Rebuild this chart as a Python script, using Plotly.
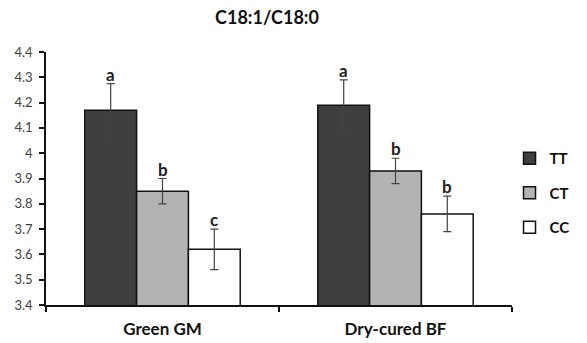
import plotly.graph_objects as go

categories = ["Green GM", "Dry-cured BF"]
genotypes = ["TT", "CT", "CC"]
ratio_tt = [4.17, 4.19]
ratio_ct = [3.85, 3.93]
ratio_cc = [3.62, 3.76]
err_tt = [0.105, 0.10]
err_ct = [0.05, 0.05]
err_cc = [0.08, 0.07]
letters_tt = ["a", "a"]
letters_ct = ["b", "b"]
letters_cc = ["c", "b"]
y_ticks = [3.4, 3.5, 3.6, 3.7, 3.8, 3.9, 4.0, 4.1, 4.2, 4.3, 4.4]
y_tick_text = ["3.4", "3.5", "3.6", "3.7", "3.8", "3.9", "4", "4.1", "4.2", "4.3", "4.4"]

values = [ratio_tt, ratio_ct, ratio_cc]
errors = [err_tt, err_ct, err_cc]
letters = [letters_tt, letters_ct, letters_cc]
fills = ["#3f3f3f", "#b3b3b3", "#ffffff"]

FONT = "Lato, 'Open Sans', sans-serif"
L, R, T, B = 46, 64, 52, 38
W, H = 587, 343
plot_w = W - L - R

fig = go.Figure()
for i, name in enumerate(genotypes):
    fig.add_trace(go.Bar(
        name=f"<b>{name}</b>",
        x=categories,
        y=values[i],
        base=0,
        marker=dict(color=fills[i], line=dict(color="#111111", width=1.5)),
        error_y=dict(type="data", array=errors[i], visible=True,
                     color="#444444", thickness=1.2, width=4),
        legendgroup=name,
        textposition="none",
    ))

# significance letters above each error bar
annotations = []
offsets = [-1, 0, 1]
bar_w = 0.667 / 3
for i in range(3):
    for j, cat in enumerate(categories):
        annotations.append(dict(
            x=j + offsets[i] * bar_w, xref="x",
            y=values[i][j] + errors[i][j], yref="y",
            text=f"<b>{letters[i][j]}</b>", showarrow=False,
            yanchor="bottom", yshift=-3,
            font=dict(family=FONT, size=17, color="#222222"),
        ))

fig.update_layout(
    width=W, height=H,
    margin=dict(l=L, r=R, t=T, b=B),
    paper_bgcolor="white", plot_bgcolor="white",
    barmode="group", bargap=0.333, bargroupgap=0,
    title=dict(text="<b>C18:1/C18:0</b>", x=267 / W, xanchor="center",
               y=1 - 18 / H, yanchor="middle",
               font=dict(family=FONT, size=18, color="#111111")),
    showlegend=True,
    legend=dict(x=(W - L) / plot_w, xanchor="right", y=0.443, yanchor="middle",
                traceorder="grouped", tracegroupgap=12,
                font=dict(family=FONT, size=15, color="#111111"),
                itemwidth=30),
    annotations=annotations,
    xaxis=dict(type="category", showline=True, linecolor="#111111", linewidth=1.5,
               ticks="outside", tickson="boundaries", ticklen=5, tickcolor="#111111",
               tickwidth=1.5, showgrid=False, ticklabelstandoff=8, automargin=False,
               tickfont=dict(family=FONT, size=17, color="#111111"),
               tickprefix="<b>", ticksuffix="</b>"),
    yaxis=dict(range=[3.4, 4.4], tickvals=y_ticks, ticktext=y_tick_text,
               showline=True, linecolor="#111111", linewidth=1.5,
               ticks="outside", ticklen=5, tickcolor="#111111", tickwidth=1.5,
               showgrid=False, zeroline=False, ticklabelstandoff=4, automargin=False,
               tickfont=dict(family=FONT, size=13, color="#404040")),
)

fig.write_html("out.html")
